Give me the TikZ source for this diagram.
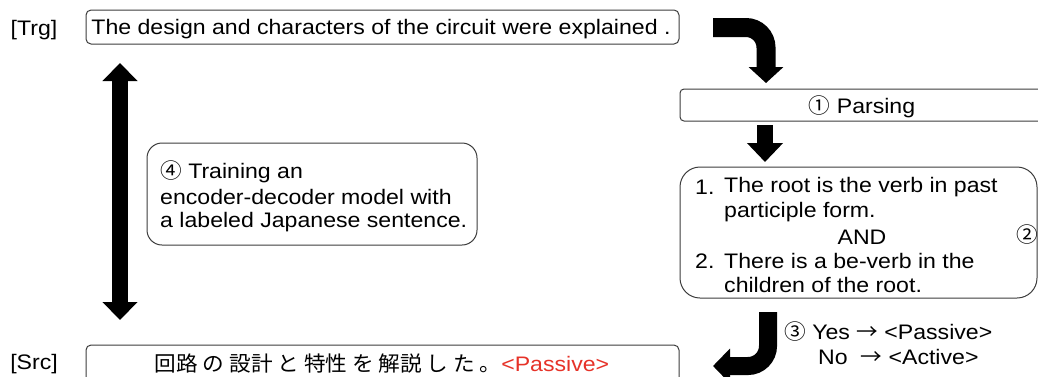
\documentclass[tikz,border=0pt]{standalone}
\usepackage{fontspec}
\setmainfont[FakeStretch=1.1]{Liberation Sans}
\newfontfamily\jp[FakeStretch=1.03]{Noto Sans CJK JP}
\usetikzlibrary{arrows.meta}
\definecolor{boxline}{RGB}{60,60,60}
\definecolor{redlabel}{RGB}{230,50,40}
\tikzset{
  x=1pt, y=-1pt,
  boxshape/.style={draw=boxline, line width=1pt},
  txt/.style={inner sep=0pt, yshift=-2pt, font=\fontsize{21}{25}\selectfont},
  blockarrow/.style={line width=#1, black, rounded corners=20pt},
}
\begin{document}
\begin{tikzpicture}
\clip (0,0) rectangle (1038,376);
% boxes
\draw[boxshape, rounded corners=5pt] (86,10) rectangle (679,44);
\draw[boxshape, rounded corners=4pt] (680,89) rectangle (1048,121);
\draw[boxshape, rounded corners=20pt] (680,167) rectangle (1037,298);
\draw[boxshape, rounded corners=15pt] (147,143) rectangle (477,245);
\draw[boxshape, rounded corners=5pt] (86,345) rectangle (679,400);
% labels
\node[txt] (trglab) at (34,28) {[Trg]};
\node[txt] (srclab) at (34,362) {[Src]};
\node[txt] (trg) at (381,27) {The design and characters of the circuit were explained .};
\node[txt] (parse) at (862,105) {{\jp ①} Parsing};
\node[txt, anchor=west] (c1n) at (695,185) {1.};
\node[txt, anchor=west] (c1) at (724,185) {The root is the verb in past};
\node[txt, anchor=west] (c1b) at (724,210) {participle form.};
\node[txt] (and) at (862,235) {AND};
\node[txt, anchor=west] (c2n) at (695,259) {2.};
\node[txt, anchor=west] (c2) at (724,259) {There is a be-verb in the};
\node[txt, anchor=west] (c2b) at (724,283) {children of the root.};
\node[txt] (two) at (1027,233) {\jp ②};
\node[txt, anchor=west] (t1) at (160,170) {{\jp ④} Training an};
\node[txt, anchor=west] (t2) at (160,195) {encoder-decoder model with};
\node[txt, anchor=west] (t3) at (160,220) {a labeled Japanese sentence.};
\node[txt, anchor=west] (yes) at (784,330) {{\jp ③} Yes {\jp →} <Passive>};
\node[txt, anchor=west] (no) at (818,355) {No \ {\jp →} <Active>};
\node[txt] (src) at (382,362) {{\jp 回路 の 設計 と 特性 を 解説 し た 。}\textcolor{redlabel}{<Passive>}};
% arrows
\coordinate (a1s) at (713,27.5);
\coordinate (a1m) at (766,27.5);
\coordinate (a1e) at (766,83);
\draw[blockarrow=19pt, -{Triangle[width=34pt,length=16pt]}] (a1s) -- (a1m) -- (a1e);
\coordinate (a2s) at (765,125);
\coordinate (a2e) at (765,162);
\draw[blockarrow=16pt, -{Triangle[width=35pt,length=19pt]}] (a2s) -- (a2e);
\coordinate (a3s) at (768,312);
\coordinate (a3m) at (768,366);
\coordinate (a3e) at (713,366);
\draw[blockarrow=18pt, -{Triangle[width=34pt,length=17pt]}] (a3s) -- (a3m) -- (a3e);
\coordinate (a4s) at (120,63);
\coordinate (a4e) at (120,320);
\draw[blockarrow=16pt, {Triangle[width=34pt,length=18pt]}-{Triangle[width=34pt,length=18pt]}] (a4s) -- (a4e);
\end{tikzpicture}
\end{document}
